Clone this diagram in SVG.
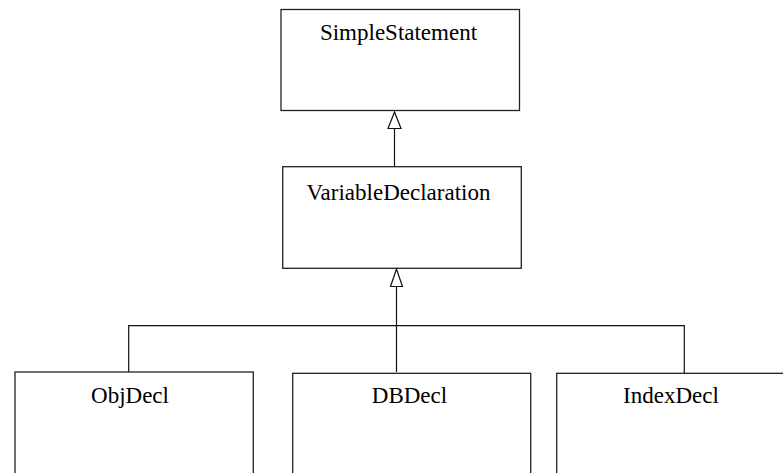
<svg xmlns="http://www.w3.org/2000/svg" width="783" height="473" viewBox="0 0 783 473">
<style>
.box{fill:#fff;stroke:#222;stroke-width:1.3}
.lbl{font-family:'Liberation Serif','Times New Roman',Times,'DejaVu Serif',serif;font-size:23px;fill:#000;text-anchor:middle}
.con{fill:none;stroke:#111;stroke-width:1.2}
.tri{fill:#fff;stroke:#111;stroke-width:1.2}
</style>
<rect width="783" height="473" fill="#fff"/>
<g id="SimpleStatement"><rect class="box" x="281" y="9.5" width="238.5" height="101"/><text class="lbl" x="398.5" y="40">SimpleStatement</text></g>
<g id="VariableDeclaration"><rect class="box" x="282.7" y="166.7" width="238.6" height="101.6"/><text class="lbl" x="398.5" y="200">VariableDeclaration</text></g>
<g id="ObjDecl"><rect class="box" x="15" y="372" width="238.3" height="120"/><text class="lbl" x="130" y="402.7">ObjDecl</text></g>
<g id="DBDecl"><rect class="box" x="292.7" y="373.3" width="238" height="120"/><text class="lbl" x="409.5" y="402.7">DBDecl</text></g>
<g id="IndexDecl"><rect class="box" x="556.7" y="373.3" width="240" height="120"/><text class="lbl" x="671" y="402.7">IndexDecl</text></g>
<g id="connectors">
<path class="con" d="M394.5 128.5 V166.7"/>
<polygon class="tri" points="394.5,112 388,128.5 401,128.5"/>
<path class="con" d="M396.5 286.5 V372"/>
<polygon class="tri" points="396.5,269 390.5,286.5 402.5,286.5"/>
<path class="con" d="M128.7 372 V325.7 H684.3 V373"/>
</g>
</svg>
